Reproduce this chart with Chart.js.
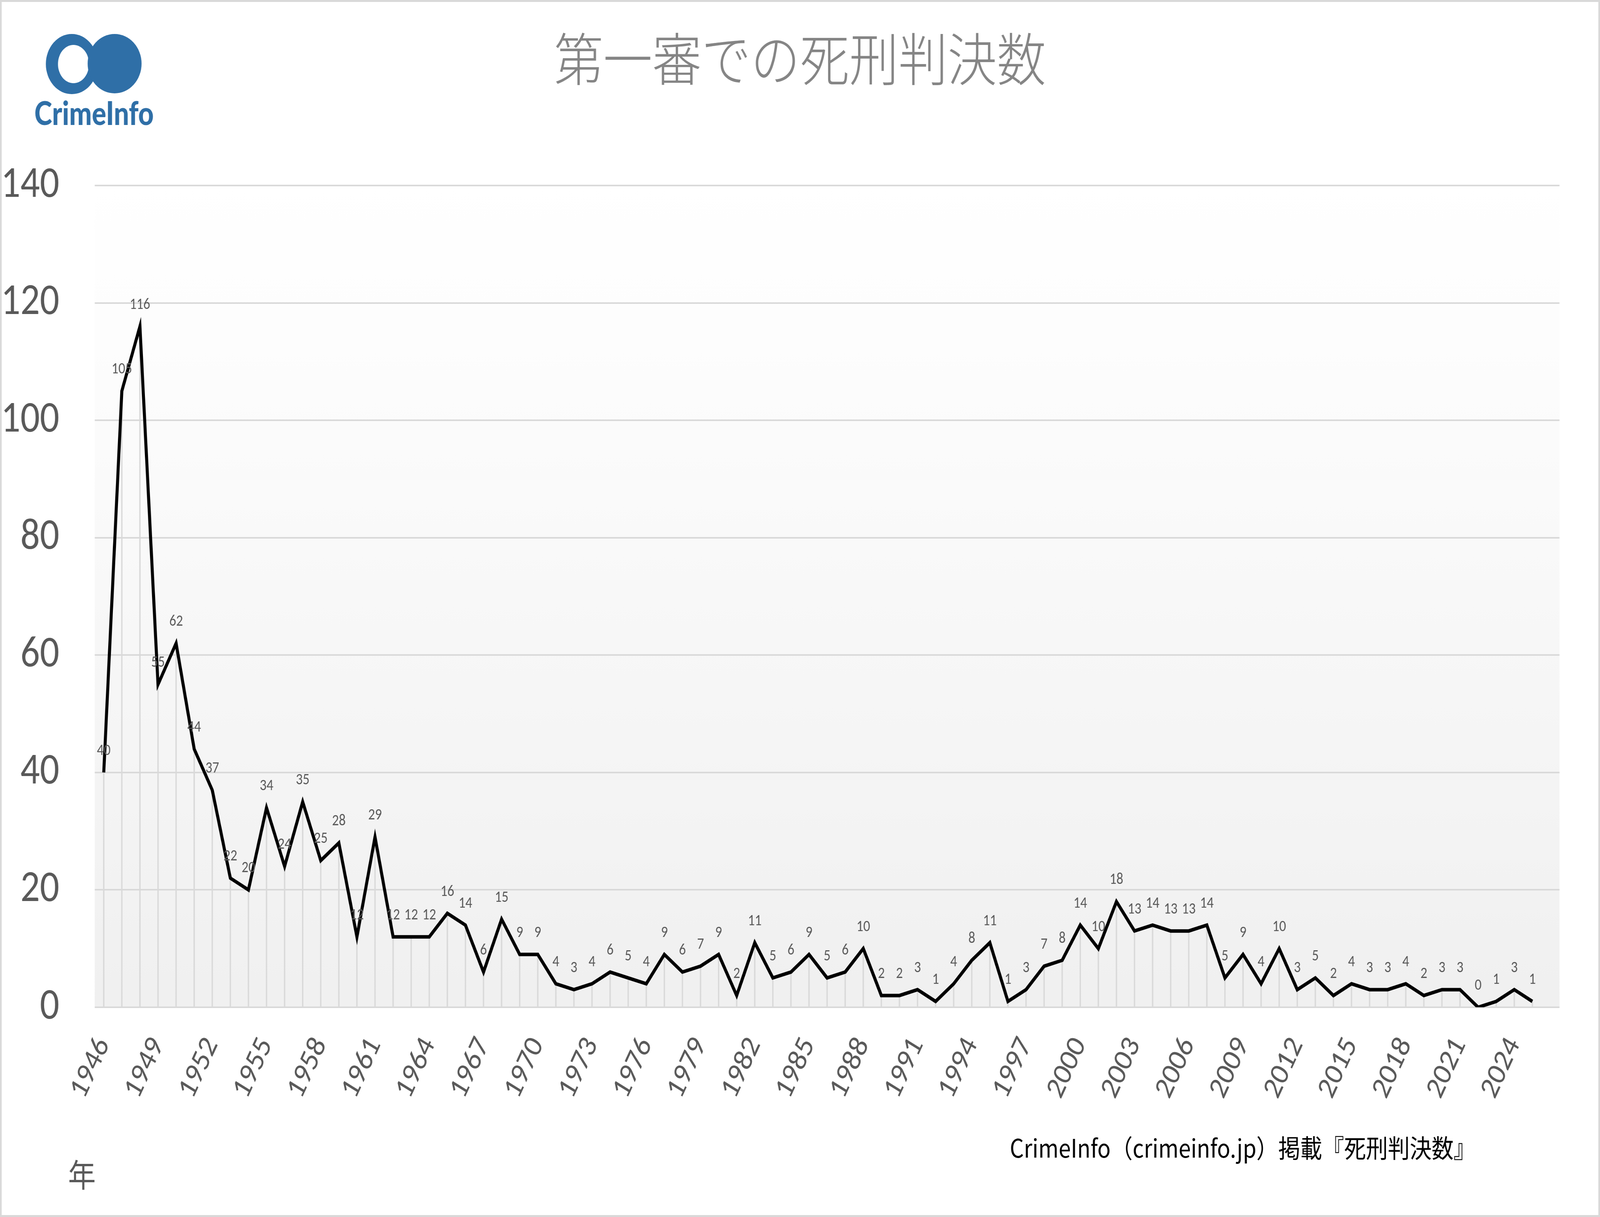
<!DOCTYPE html>
<html><head><meta charset="utf-8">
<script src="https://cdn.jsdelivr.net/npm/chart.js@4/dist/chart.umd.min.js"></script>
<style>html,body{margin:0;padding:0;background:#fff;overflow:hidden}canvas{display:block}</style>
</head><body>
<canvas id="c" width="4747" height="3116"></canvas>
<script>
// ---- data ----
const chartTitle = '第一審での死刑判決数';
const sourceNote = 'CrimeInfo（crimeinfo.jp）掲載『死刑判決数』';
const xAxisTitle = '年';
const logoText = 'CrimeInfo';
const years = ['1946','1947','1948','1949','1950','1951','1952','1953','1954','1955',
  '1956','1957','1958','1959','1960','1961','1962','1963','1964','1965',
  '1966','1967','1968','1969','1970','1971','1972','1973','1974','1975',
  '1976','1977','1978','1979','1980','1981','1982','1983','1984','1985',
  '1986','1987','1988','1989','1990','1991','1992','1993','1994','1995',
  '1996','1997','1998','1999','2000','2001','2002','2003','2004','2005',
  '2006','2007','2008','2009','2010','2011','2012','2013','2014','2015',
  '2016','2017','2018','2019','2020','2021','2022','2023','2024','2025','2026'];
const deathSentences = [40,105,116,55,62,44,37,22,20,34,
  24,35,25,28,12,29,12,12,12,16,
  14,6,15,9,9,4,3,4,6,5,
  4,9,6,7,9,2,11,5,6,9,
  5,6,10,2,2,3,1,4,8,11,
  1,3,7,8,14,10,18,13,14,13,
  13,14,5,9,4,10,3,5,2,4,
  3,3,4,2,3,3,0,1,3,1,null];
const xTickLabels = ['1946','1949','1952','1955','1958','1961','1964','1967','1970','1973',
  '1976','1979','1982','1985','1988','1991','1994','1997','2000','2003',
  '2006','2009','2012','2015','2018','2021','2024'];
const yTicks = [0,20,40,60,80,100,120,140];

// ---- style ----
const NUM_FONT = "Carlito, 'Roboto Condensed', sans-serif";
const CJK_FONT = "'Noto Sans CJK JP','Noto Sans CJK SC',sans-serif";
const GREY = '#595959';
const GRID = '#d9d9d9';

// the drawing is laid out on a 4747x3116 canvas and shown at the window size
const cv = document.getElementById('c');
cv.style.width = (window.innerWidth || 4747) + 'px';
cv.style.height = (window.innerHeight || 3116) + 'px';

const decor = {
  id: 'decor',
  beforeDraw(chart) {
    const {ctx, chartArea: a} = chart;
    ctx.save();
    ctx.fillStyle = '#ffffff';
    ctx.fillRect(0, 0, chart.width, chart.height);
    const g = ctx.createLinearGradient(0, a.top, 0, a.bottom);
    g.addColorStop(0, '#ffffff');
    g.addColorStop(0.2, '#fdfdfd');
    g.addColorStop(1, '#f0f0f0');
    ctx.fillStyle = g;
    ctx.fillRect(a.left, a.top, a.right - a.left, a.bottom - a.top);
    ctx.restore();
  },
  beforeDatasetsDraw(chart) {
    const {ctx, chartArea: a} = chart;
    const meta = chart.getDatasetMeta(0);
    ctx.save();
    ctx.strokeStyle = GRID;
    ctx.lineWidth = 4;
    meta.data.forEach((p, i) => {
      if (deathSentences[i] === null) return;
      ctx.beginPath();
      ctx.moveTo(p.x, p.y);
      ctx.lineTo(p.x, a.bottom);
      ctx.stroke();
    });
    ctx.restore();
  },
  afterDatasetsDraw(chart) {
    const {ctx} = chart;
    const meta = chart.getDatasetMeta(0);
    ctx.save();
    ctx.fillStyle = GREY;
    ctx.font = '40px ' + NUM_FONT;
    ctx.textAlign = 'center';
    ctx.textBaseline = 'middle';
    meta.data.forEach((p, i) => {
      const v = deathSentences[i];
      if (v === null) return;
      ctx.fillText(String(v), p.x, p.y - 55);
    });
    ctx.restore();
  },
  afterDraw(chart) {
    const {ctx} = chart;
    const W = chart.width, H = chart.height;
    ctx.save();
    // title
    ctx.fillStyle = '#858585';
    ctx.font = '300 146px ' + CJK_FONT;
    ctx.textAlign = 'center';
    ctx.textBaseline = 'middle';
    ctx.fillText(chartTitle, W / 2, 151);
    // source
    ctx.fillStyle = '#000000';
    ctx.font = '65px ' + CJK_FONT;
    ctx.textAlign = 'left';
    ctx.fillText(sourceNote, 2996, 2939, 1417);
    // axis title
    ctx.fillStyle = GREY;
    ctx.font = '82px ' + CJK_FONT;
    ctx.textAlign = 'center';
    ctx.fillText(xAxisTitle, 243, 3008);
    // logo
    const blue = '#2f6fa7';
    ctx.fillStyle = blue;
    ctx.beginPath(); ctx.arc(213, 164, 77, 0, Math.PI * 2); ctx.fill();
    ctx.fillStyle = '#ffffff';
    ctx.beginPath(); ctx.ellipse(218, 164, 46, 49, 0, 0, Math.PI * 2); ctx.fill();
    ctx.fillStyle = blue;
    ctx.beginPath(); ctx.ellipse(340, 163, 80, 76, 0, 0, Math.PI * 2); ctx.fill();
    ctx.font = '900 84px Lato, "Open Sans", sans-serif';
    ctx.textAlign = 'left';
    ctx.textBaseline = 'alphabetic';
    ctx.fillText(logoText, 102, 320, 354);
    // border
    ctx.strokeStyle = GRID;
    ctx.lineWidth = 5;
    ctx.strokeRect(2.5, 2.5, W - 5, H - 5);
    ctx.restore();
  }
};

new Chart(cv, {
  type: 'line',
  data: {
    labels: years,
    datasets: [{
      data: deathSentences,
      borderColor: '#000000',
      borderWidth: 9,
      pointRadius: 0,
      tension: 0,
      fill: false
    }]
  },
  options: {
    responsive: false,
    devicePixelRatio: 1,
    animation: false,
    events: [],
    layout: {padding: {top: 475, right: 51, left: 0, bottom: 0}},
    plugins: {legend: {display: false}, tooltip: {enabled: false}, title: {display: false}},
    scales: {
      x: {
        type: 'category',
        offset: true,
        grid: {display: false, drawTicks: false},
        border: {display: false},
        ticks: {
          autoSkip: false,
          minRotation: 62,
          maxRotation: 62,
          padding: 62,
          color: GREY,
          font: {family: NUM_FONT, size: 80},
          callback: function (v) {
            const l = this.getLabelForValue(v);
            return xTickLabels.includes(l) ? l : '';
          }
        },
        afterFit(s) { s.height = 537; }
      },
      y: {
        min: 0,
        max: 140,
        grid: {color: GRID, lineWidth: 4, drawTicks: false},
        border: {display: false},
        ticks: {
          padding: 105,
          color: GREY,
          font: {family: NUM_FONT, size: 114}
        },
        afterBuildTicks(s) { s.ticks = yTicks.map(v => ({value: v})); },
        afterFit(s) { s.width = 281; }
      }
    }
  },
  plugins: [decor]
});
</script>
</body></html>
